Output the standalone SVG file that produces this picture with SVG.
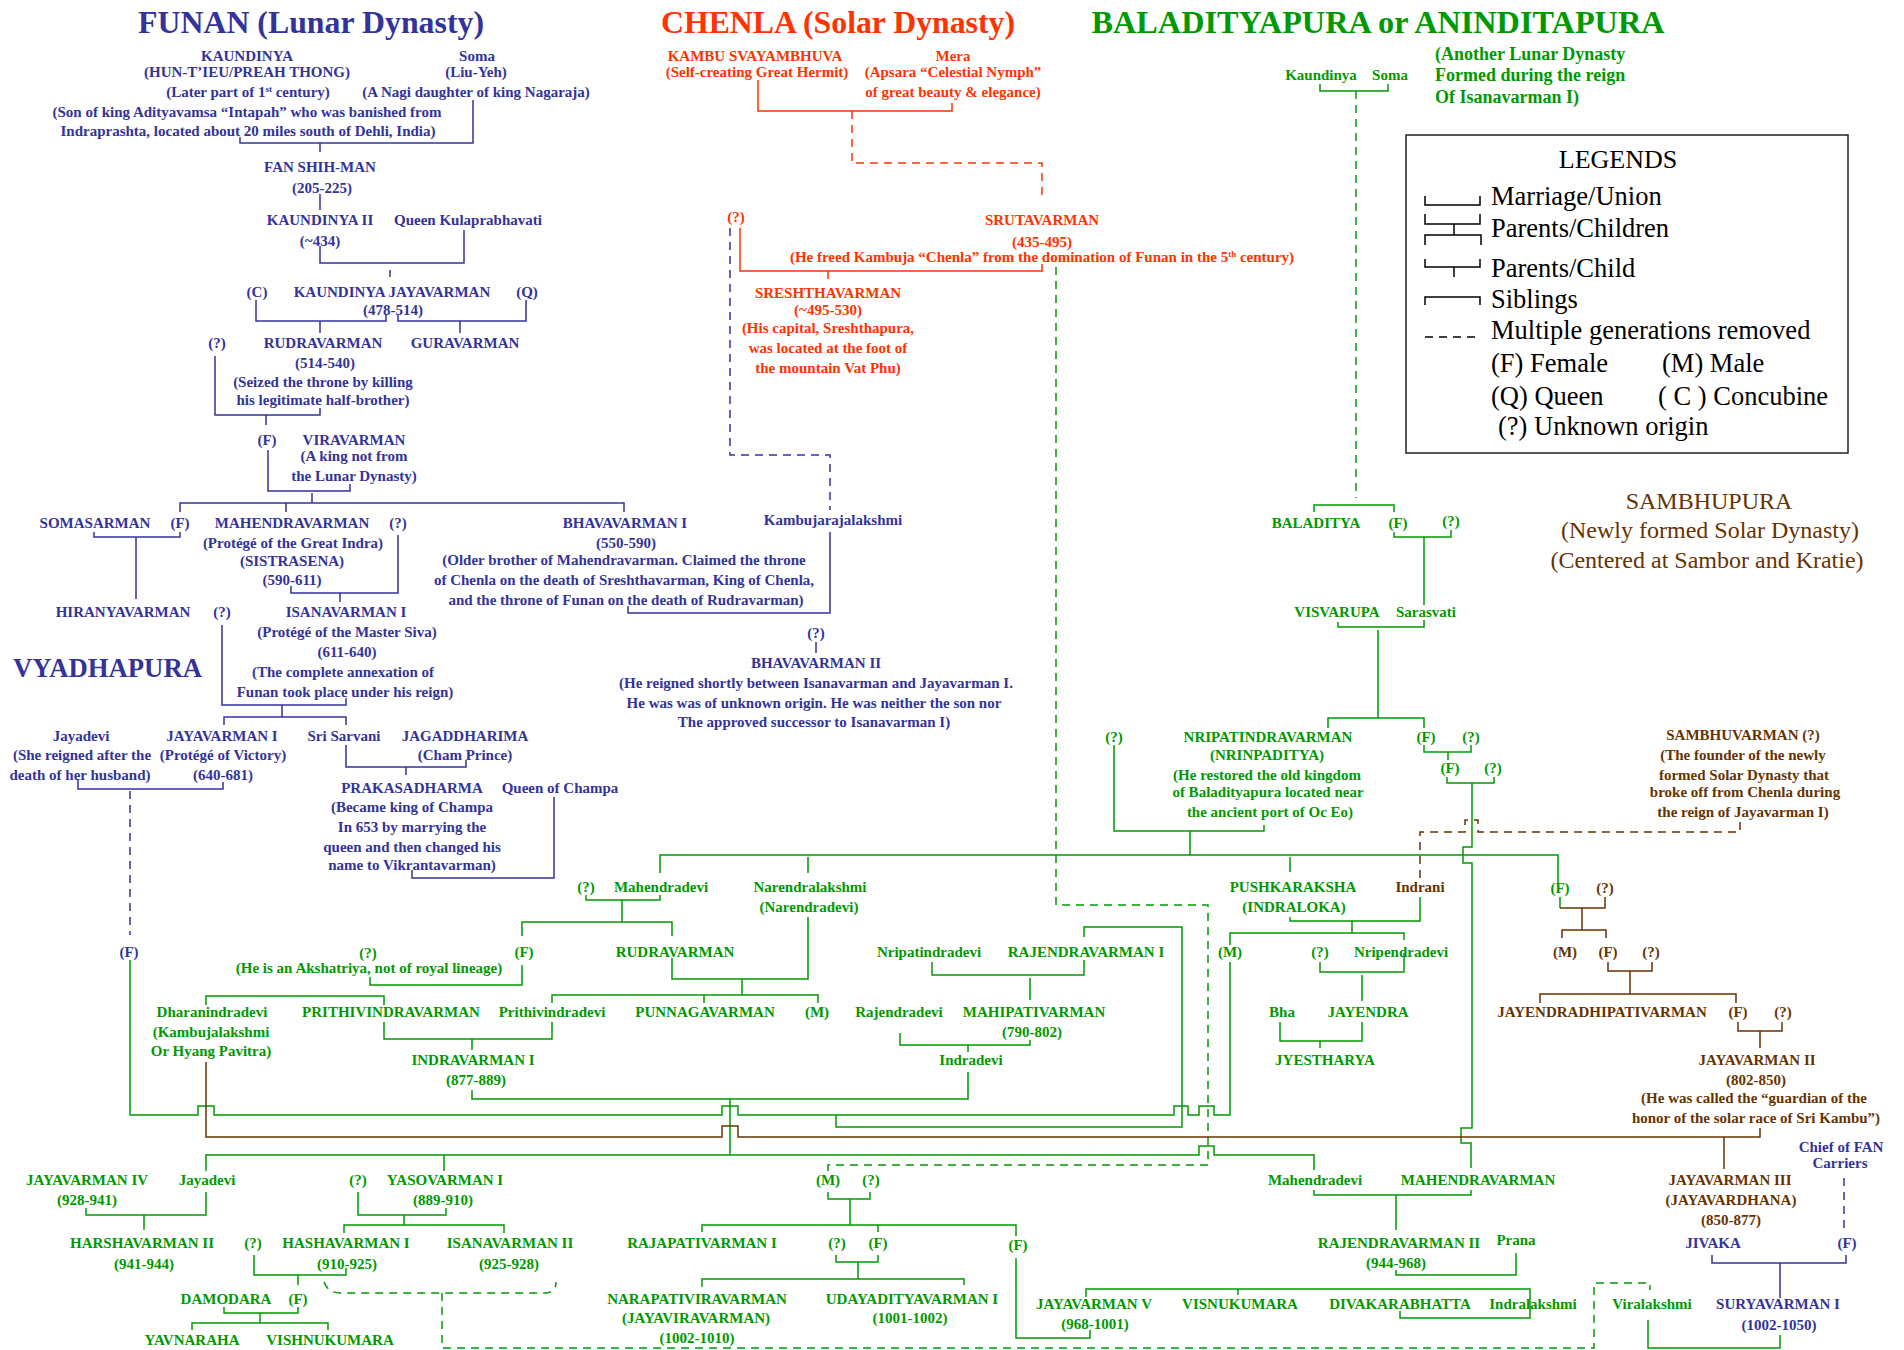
<svg xmlns="http://www.w3.org/2000/svg" width="1904" height="1350" viewBox="0 0 1904 1350">
<style>
text{font-family:'Liberation Serif','Times New Roman',serif;font-size:15px;font-weight:bold;text-anchor:middle}
.b{fill:#333399}.r{fill:#FF3300}.g{fill:#009900}.n{fill:#663300}.k{fill:#000;font-weight:normal}
.ttl{font-size:32px}
.st{text-anchor:start}
.sup{font-size:9px}
.lt{font-size:26.5px}
path{fill:none;stroke-width:1.5}
.lb{stroke:#333399}.lr{stroke:#FF3300}.lg{stroke:#009900}.ln{stroke:#663300}.lk{stroke:#000}
.d{stroke-dasharray:8 6}
</style>
<rect width="1904" height="1350" fill="#fff"/>

<g id="connectors">
<path class="lb" d="M473,100V143H240V137M320,143V152M320,194V210M320,246V263H464V230M390,270V277M256,300V321H386V315M320,321V333M398,315V321H526V300M460,321V333M215,356V415H320V408M266,415V425M268,450V491H350V484M312,493V503M180,512V503H624V512M286,503V512M94,532V537H180V532M136,537V599M398,535V593H291V586M340,593V602M222,625V705H346V698M282,705V717M224,725V717H346V725M78,780V789H223V782M346,745V767H466V760M406,767V775M412,870V878H554V797M628,606V613H830V532M816,642V653M1712,1255V1263H1846V1255M1780,1263V1298"/>
<path class="lb d" d="M130,791V935M730,228V455H830V510M1844,1178V1232"/>
<path class="lr" d="M758,80V111H952V103M740,228V271H1042V264M828,271V279"/>
<path class="lr d" d="M852,111V163H1042V200"/>
<path class="lg" d="M1320,84V91H1388V84M1314,512V505H1394V512M1394,532V537H1451V530M1424,537V605M1424,620V627H1338V622M1378,630V718M1328,728V718H1424V728M1424,745V752H1471V745M1448,752V760M1447,777V783H1494V777M1472,783V847H1463V863H1472V1128H1461V1143H1471V1168M1114,745V831H1264V825M1190,831V855M660,873V855H1558V883M808,857V873M1290,857V872M586,895V900H660V895M622,900V922M522,936V922H672V936M370,977V985H522V965M206,1005V996H384V1005M672,958V979H808V917M742,979V995M552,1003V995H818V1003M704,995V1003M384,1022V1039H552V1022M472,1039V1050M932,962V975H1084V960M1030,978V1000M1084,937V927H1182V1127H836V1115M900,1033V1045H1030V1040M968,1045V1052M968,1072V1099H472V1090M730,1099V1155M1290,917V921H1420V897M1352,921V933M1230,945V933H1404V940M1320,962V972H1404V953M1362,975V1001M1280,1022V1041H1362V1022M1320,1041V1048M130,960V1115H198V1106H214V1115H722V1106H738V1115H1174V1106H1188V1115H1199V1106H1214V1115H1230V962M206,1171V1155H1199V1146H1214V1155H1314V1170M444,1155V1171M86,1208V1215H206V1192M144,1215V1230M358,1192V1215H446V1208M404,1215V1225M344,1233V1225H504V1233M254,1255V1275H346V1268M298,1275V1285M224,1307V1313H298V1307M260,1313V1323M192,1330V1323H328V1330M828,1192V1199H870V1192M850,1199V1225M702,1232V1225H1016V1236M878,1225V1232M836,1255V1262H878V1255M858,1262V1279M702,1287V1279H964V1285M1016,1258V1338H1090V1330M1314,1190V1195H1471V1190M1396,1195V1230M1396,1270V1275H1516V1253M1086,1297V1289H1530V1318H1400V1311M1238,1289V1295M1648,1320V1348H1780V1335M1560,897V908"/>
<path class="lg d" d="M1356,91V498M1056,267V905H1208V1165H828V1172M324,1282Q328,1293 340,1293H544Q556,1293 556,1282M442,1293V1348H1594V1283H1650V1290"/>
<path class="ln" d="M1560,908H1605V897M1582,908V930M1562,938V930H1606V938M1608,962V971H1652V962M1630,971V994M1540,1003V994H1736V1003M1738,1022V1031H1782V1022M1760,1031V1048M206,1062V1137H722V1126H738V1137H1760V1128M1724,1137V1169"/>
<path class="ln d" d="M1740,822V832H1478V820H1465V832H1420V878"/>
</g>

<g id="titles">
<text class="b ttl" x="311" y="33" textLength="346" lengthAdjust="spacingAndGlyphs">FUNAN (Lunar Dynasty)</text>
<text class="r ttl" x="838" y="33" textLength="354" lengthAdjust="spacingAndGlyphs">CHENLA (Solar Dynasty)</text>
<text class="g ttl" x="1378" y="33" textLength="573" lengthAdjust="spacingAndGlyphs">BALADITYAPURA or ANINDITAPURA</text>
<text class="b st" x="13" y="677" style="font-size:28px" textLength="189" lengthAdjust="spacingAndGlyphs">VYADHAPURA</text>
<text class="g st" x="1435" y="60" style="font-size:18px">(Another Lunar Dynasty</text>
<text class="g st" x="1435" y="81" style="font-size:18px">Formed during the reign</text>
<text class="g st" x="1435" y="103" style="font-size:18px">Of Isanavarman  I)</text>
<text class="n" x="1709" y="509" style="font-size:24px;font-weight:normal">SAMBHUPURA</text>
<text class="n" x="1710" y="538" style="font-size:24px;font-weight:normal">(Newly formed Solar Dynasty)</text>
<text class="n" x="1707" y="568" style="font-size:24px;font-weight:normal">(Centered at Sambor and Kratie)</text>
</g>

<g id="legend">
<rect x="1406" y="135" width="442" height="318" fill="#fff" stroke="#222" stroke-width="1.5"/>
<path class="lk" d="M1425,196V205H1480V196M1425,214V224H1480V214M1454,224V235M1425,245V235H1481V245M1425,259V267H1480V259M1454,267V277M1425,305V297H1480V305"/>
<path class="lk d" d="M1425,337H1480"/>
<text class="k" x="1618" y="168" style="font-size:26px">LEGENDS</text>
<text class="k st lt" x="1491" y="205">Marriage/Union</text>
<text class="k st lt" x="1491" y="237">Parents/Children</text>
<text class="k st lt" x="1491" y="277">Parents/Child</text>
<text class="k st lt" x="1491" y="308">Siblings</text>
<text class="k st lt" x="1491" y="339">Multiple generations removed</text>
<text class="k st lt" x="1491" y="372">(F) Female</text>
<text class="k st lt" x="1662" y="372">(M) Male</text>
<text class="k st lt" x="1491" y="405">(Q) Queen</text>
<text class="k st lt" x="1658" y="405">( C ) Concubine</text>
<text class="k st lt" x="1498" y="435">(?) Unknown origin</text>
</g>

<g id="n-kaundinya"><text class="b" x="247" y="61">KAUNDINYA</text><text class="b" x="247" y="77">(HUN-T’IEU/PREAH THONG)</text><text class="b" x="248" y="97">(Later part of 1<tspan class="sup" dy="-5">st</tspan><tspan dy="5"> century)</tspan></text><text class="b" x="247" y="117">(Son of king Adityavamsa “Intapah” who was banished from</text><text class="b" x="248" y="136">Indraprashta, located about 20 miles south of Dehli, India)</text></g>
<g id="n-soma"><text class="b" x="477" y="61">Soma</text><text class="b" x="476" y="77">(Liu-Yeh)</text><text class="b" x="476" y="97">(A Nagi daughter of king Nagaraja)</text></g>
<g id="n-fan-shih-man"><text class="b" x="320" y="172">FAN SHIH-MAN</text><text class="b" x="322" y="193">(205-225)</text></g>
<g id="n-kaundinya-ii"><text class="b" x="320" y="225">KAUNDINYA II</text><text class="b" x="320" y="246">(~434)</text></g>
<g id="n-queen-kulaprabhavati"><text class="b" x="468" y="225">Queen Kulaprabhavati</text></g>
<g id="n-concubine"><text class="b" x="257" y="297">(C)</text></g>
<g id="n-kaundinya-jayavarman"><text class="b" x="392" y="297">KAUNDINYA  JAYAVARMAN</text><text class="b" x="393" y="315">(478-514)</text></g>
<g id="n-queen"><text class="b" x="527" y="297">(Q)</text></g>
<g id="n-unknown-1"><text class="b" x="217" y="348">(?)</text></g>
<g id="n-rudravarman"><text class="b" x="323" y="348">RUDRAVARMAN</text><text class="b" x="325" y="368">(514-540)</text><text class="b" x="323" y="387">(Seized the throne by killing</text><text class="b" x="323" y="405">his legitimate half-brother)</text></g>
<g id="n-guravarman"><text class="b" x="465" y="348">GURAVARMAN</text></g>
<g id="n-female-1"><text class="b" x="267" y="445">(F)</text></g>
<g id="n-viravarman"><text class="b" x="354" y="445">VIRAVARMAN</text><text class="b" x="354" y="461">(A king not from</text><text class="b" x="354" y="481">the Lunar Dynasty)</text></g>
<g id="n-somasarman"><text class="b" x="95" y="528">SOMASARMAN</text></g>
<g id="n-female-2"><text class="b" x="180" y="528">(F)</text></g>
<g id="n-mahendravarman"><text class="b" x="292" y="528">MAHENDRAVARMAN</text><text class="b" x="293" y="548">(Protégé of the Great Indra)</text><text class="b" x="292" y="566">(SISTRASENA)</text><text class="b" x="292" y="585">(590-611)</text></g>
<g id="n-unknown-2"><text class="b" x="398" y="528">(?)</text></g>
<g id="n-bhavavarman-i"><text class="b" x="625" y="528">BHAVAVARMAN  I</text><text class="b" x="626" y="548">(550-590)</text><text class="b" x="624" y="565">(Older brother of Mahendravarman. Claimed the throne</text><text class="b" x="624" y="585">of Chenla on the death of Sreshthavarman, King of Chenla,</text><text class="b" x="626" y="605">and the throne of Funan on the death of Rudravarman)</text></g>
<g id="n-kambujarajalakshmi"><text class="b" x="833" y="525">Kambujarajalakshmi</text></g>
<g id="n-hiranyavarman"><text class="b" x="123" y="617">HIRANYAVARMAN</text></g>
<g id="n-unknown-3"><text class="b" x="222" y="617">(?)</text></g>
<g id="n-isanavarman-i"><text class="b" x="346" y="617">ISANAVARMAN  I</text><text class="b" x="347" y="637">(Protégé of the Master Siva)</text><text class="b" x="347" y="657">(611-640)</text><text class="b" x="343" y="677">(The complete annexation of</text><text class="b" x="345" y="697">Funan took place under his reign)</text></g>
<g id="n-unknown-4"><text class="b" x="816" y="638">(?)</text></g>
<g id="n-bhavavarman-ii"><text class="b" x="816" y="668">BHAVAVARMAN  II</text><text class="b" x="816" y="688">(He reigned shortly between Isanavarman and Jayavarman I.</text><text class="b" x="814" y="708">He was was of unknown origin. He was neither the son nor</text><text class="b" x="814" y="727">The approved successor to Isanavarman I)</text></g>
<g id="n-jayadevi-1"><text class="b" x="81" y="741">Jayadevi</text><text class="b" x="82" y="760">(She reigned after the</text><text class="b" x="80" y="780">death of her husband)</text></g>
<g id="n-jayavarman-i"><text class="b" x="222" y="741">JAYAVARMAN  I</text><text class="b" x="223" y="760">(Protégé of Victory)</text><text class="b" x="223" y="780">(640-681)</text></g>
<g id="n-sri-sarvani"><text class="b" x="344" y="741">Sri Sarvani</text></g>
<g id="n-jagaddharima"><text class="b" x="465" y="741">JAGADDHARIMA</text><text class="b" x="465" y="760">(Cham Prince)</text></g>
<g id="n-prakasadharma"><text class="b" x="412" y="793">PRAKASADHARMA</text><text class="b" x="412" y="812">(Became king of Champa</text><text class="b" x="412" y="832">In 653 by marrying the</text><text class="b" x="412" y="852">queen and then changed his</text><text class="b" x="412" y="870">name to Vikrantavarman)</text></g>
<g id="n-queen-champa"><text class="b" x="560" y="793">Queen of Champa</text></g>
<g id="n-female-3"><text class="b" x="129" y="957">(F)</text></g>
<g id="n-chief-fan"><text class="b" x="1841" y="1152">Chief of FAN</text><text class="b" x="1840" y="1168">Carriers</text></g>
<g id="n-jivaka"><text class="b" x="1713" y="1248">JIVAKA</text></g>
<g id="n-female-4"><text class="b" x="1847" y="1248">(F)</text></g>
<g id="n-suryavarman-i"><text class="b" x="1778" y="1309">SURYAVARMAN I</text><text class="b" x="1779" y="1330">(1002-1050)</text></g>

<g id="n-kambu"><text class="r" x="755" y="61">KAMBU  SVAYAMBHUVA</text><text class="r" x="757" y="77">(Self-creating Great Hermit)</text></g>
<g id="n-mera"><text class="r" x="953" y="61">Mera</text><text class="r" x="953" y="77">(Apsara “Celestial Nymph”</text><text class="r" x="953" y="97">of great beauty &amp; elegance)</text></g>
<g id="n-srutavarman"><text class="r" x="1042" y="225">SRUTAVARMAN</text><text class="r" x="1042" y="247">(435-495)</text><text class="r" x="1042" y="262">(He freed Kambuja “Chenla” from the domination of Funan in the 5<tspan class="sup" dy="-5">th</tspan><tspan dy="5"> century)</tspan></text></g>
<g id="n-unknown-5"><text class="r" x="736" y="222">(?)</text></g>
<g id="n-sreshthavarman"><text class="r" x="828" y="298">SRESHTHAVARMAN</text><text class="r" x="828" y="315">(~495-530)</text><text class="r" x="828" y="333">(His capital, Sreshthapura,</text><text class="r" x="828" y="353">was located at the foot of</text><text class="r" x="828" y="373">the mountain Vat Phu)</text></g>

<g id="n-kaundinya-g"><text class="g" x="1321" y="80">Kaundinya</text></g>
<g id="n-soma-g"><text class="g" x="1390" y="80">Soma</text></g>
<g id="n-baladitya"><text class="g" x="1316" y="528">BALADITYA</text></g>
<g id="n-female-5"><text class="g" x="1398" y="528">(F)</text></g>
<g id="n-unknown-6"><text class="g" x="1451" y="526">(?)</text></g>
<g id="n-visvarupa"><text class="g" x="1337" y="617">VISVARUPA</text></g>
<g id="n-sarasvati"><text class="g" x="1426" y="617">Sarasvati</text></g>
<g id="n-unknown-7"><text class="g" x="1114" y="742">(?)</text></g>
<g id="n-nripatindravarman"><text class="g" x="1268" y="742">NRIPATINDRAVARMAN</text><text class="g" x="1267" y="760">(NRINPADITYA)</text><text class="g" x="1267" y="780">(He restored the old kingdom</text><text class="g" x="1268" y="797">of Baladityapura located near</text><text class="g" x="1270" y="817">the ancient port of Oc Eo)</text></g>
<g id="n-female-6"><text class="g" x="1426" y="742">(F)</text></g>
<g id="n-unknown-8"><text class="g" x="1471" y="742">(?)</text></g>
<g id="n-female-7"><text class="g" x="1450" y="773">(F)</text></g>
<g id="n-unknown-9"><text class="g" x="1493" y="773">(?)</text></g>
<g id="n-unknown-10"><text class="g" x="586" y="892">(?)</text></g>
<g id="n-mahendradevi-1"><text class="g" x="661" y="892">Mahendradevi</text></g>
<g id="n-narendralakshmi"><text class="g" x="810" y="892">Narendralakshmi</text><text class="g" x="809" y="912">(Narendradevi)</text></g>
<g id="n-pushkaraksha"><text class="g" x="1293" y="892">PUSHKARAKSHA</text><text class="g" x="1294" y="912">(INDRALOKA)</text></g>
<g id="n-indrani"><text class="n" x="1420" y="892">Indrani</text></g>
<g id="n-female-8"><text class="g" x="1560" y="893">(F)</text></g>
<g id="n-unknown-11"><text class="n" x="1605" y="893">(?)</text></g>
<g id="n-sambhuvarman"><text class="n" x="1743" y="740">SAMBHUVARMAN (?)</text><text class="n" x="1743" y="760">(The founder of the newly</text><text class="n" x="1744" y="780">formed Solar Dynasty that</text><text class="n" x="1745" y="797">broke off from Chenla during</text><text class="n" x="1743" y="817">the reign of Jayavarman I)</text></g>
<g id="n-unknown-12"><text class="g" x="368" y="958">(?)</text><text class="g" x="369" y="973">(He is an Akshatriya, not of royal lineage)</text></g>
<g id="n-female-9"><text class="g" x="524" y="957">(F)</text></g>
<g id="n-rudravarman-g"><text class="g" x="675" y="957">RUDRAVARMAN</text></g>
<g id="n-nripatindradevi"><text class="g" x="929" y="957">Nripatindradevi</text></g>
<g id="n-rajendravarman-i"><text class="g" x="1086" y="957">RAJENDRAVARMAN  I</text></g>
<g id="n-male-1"><text class="g" x="1230" y="957">(M)</text></g>
<g id="n-unknown-13"><text class="g" x="1320" y="957">(?)</text></g>
<g id="n-nripendradevi"><text class="g" x="1401" y="957">Nripendradevi</text></g>
<g id="n-male-2"><text class="n" x="1565" y="957">(M)</text></g>
<g id="n-female-10"><text class="n" x="1608" y="957">(F)</text></g>
<g id="n-unknown-14"><text class="n" x="1651" y="957">(?)</text></g>
<g id="n-dharanindradevi"><text class="g" x="212" y="1017">Dharanindradevi</text><text class="g" x="211" y="1037">(Kambujalakshmi</text><text class="g" x="211" y="1056">Or Hyang Pavitra)</text></g>
<g id="n-prithivindravarman"><text class="g" x="391" y="1017">PRITHIVINDRAVARMAN</text></g>
<g id="n-prithivindradevi"><text class="g" x="552" y="1017">Prithivindradevi</text></g>
<g id="n-punnagavarman"><text class="g" x="705" y="1017">PUNNAGAVARMAN</text></g>
<g id="n-male-3"><text class="g" x="817" y="1017">(M)</text></g>
<g id="n-rajendradevi"><text class="g" x="899" y="1017">Rajendradevi</text></g>
<g id="n-mahipativarman"><text class="g" x="1034" y="1017">MAHIPATIVARMAN</text><text class="g" x="1032" y="1037">(790-802)</text></g>
<g id="n-bha"><text class="g" x="1282" y="1017">Bha</text></g>
<g id="n-jayendra"><text class="g" x="1368" y="1017">JAYENDRA</text></g>
<g id="n-jayendradhipativarman"><text class="n" x="1602" y="1017">JAYENDRADHIPATIVARMAN</text></g>
<g id="n-female-11"><text class="n" x="1738" y="1017">(F)</text></g>
<g id="n-unknown-15"><text class="n" x="1783" y="1017">(?)</text></g>
<g id="n-indravarman-i"><text class="g" x="473" y="1065">INDRAVARMAN  I</text><text class="g" x="476" y="1085">(877-889)</text></g>
<g id="n-indradevi"><text class="g" x="971" y="1065">Indradevi</text></g>
<g id="n-jyestharya"><text class="g" x="1325" y="1065">JYESTHARYA</text></g>
<g id="n-jayavarman-ii"><text class="n" x="1757" y="1065">JAYAVARMAN  II</text><text class="n" x="1756" y="1085">(802-850)</text><text class="n" x="1754" y="1103">(He was called the “guardian of the</text><text class="n" x="1756" y="1123">honor of the solar race of Sri Kambu”)</text></g>
<g id="n-jayavarman-iv"><text class="g" x="87" y="1185">JAYAVARMAN  IV</text><text class="g" x="87" y="1205">(928-941)</text></g>
<g id="n-jayadevi-2"><text class="g" x="207" y="1185">Jayadevi</text></g>
<g id="n-unknown-16"><text class="g" x="358" y="1185">(?)</text></g>
<g id="n-yasovarman-i"><text class="g" x="445" y="1185">YASOVARMAN  I</text><text class="g" x="443" y="1205">(889-910)</text></g>
<g id="n-male-4"><text class="g" x="828" y="1185">(M)</text></g>
<g id="n-unknown-17"><text class="g" x="871" y="1185">(?)</text></g>
<g id="n-mahendradevi-2"><text class="g" x="1315" y="1185">Mahendradevi</text></g>
<g id="n-mahendravarman-g"><text class="g" x="1478" y="1185">MAHENDRAVARMAN</text></g>
<g id="n-jayavarman-iii"><text class="n" x="1730" y="1185">JAYAVARMAN  III</text><text class="n" x="1731" y="1205">(JAYAVARDHANA)</text><text class="n" x="1731" y="1225">(850-877)</text></g>
<g id="n-harshavarman-ii"><text class="g" x="142" y="1248">HARSHAVARMAN  II</text><text class="g" x="144" y="1269">(941-944)</text></g>
<g id="n-unknown-18"><text class="g" x="253" y="1248">(?)</text></g>
<g id="n-hashavarman-i"><text class="g" x="346" y="1248">HASHAVARMAN  I</text><text class="g" x="347" y="1269">(910-925)</text></g>
<g id="n-isanavarman-ii"><text class="g" x="510" y="1248">ISANAVARMAN  II</text><text class="g" x="509" y="1269">(925-928)</text></g>
<g id="n-rajapativarman-i"><text class="g" x="702" y="1248">RAJAPATIVARMAN  I</text></g>
<g id="n-unknown-19"><text class="g" x="837" y="1248">(?)</text></g>
<g id="n-female-12"><text class="g" x="878" y="1248">(F)</text></g>
<g id="n-female-13"><text class="g" x="1018" y="1250">(F)</text></g>
<g id="n-rajendravarman-ii"><text class="g" x="1399" y="1248">RAJENDRAVARMAN  II</text><text class="g" x="1396" y="1268">(944-968)</text></g>
<g id="n-prana"><text class="g" x="1516" y="1245">Prana</text></g>
<g id="n-damodara"><text class="g" x="226" y="1304">DAMODARA</text></g>
<g id="n-female-14"><text class="g" x="298" y="1304">(F)</text></g>
<g id="n-narapativiravarman"><text class="g" x="697" y="1304">NARAPATIVIRAVARMAN</text><text class="g" x="696" y="1323">(JAYAVIRAVARMAN)</text><text class="g" x="697" y="1343">(1002-1010)</text></g>
<g id="n-udayadityavarman-i"><text class="g" x="912" y="1304">UDAYADITYAVARMAN  I</text><text class="g" x="910" y="1323">(1001-1002)</text></g>
<g id="n-jayavarman-v"><text class="g" x="1094" y="1309">JAYAVARMAN  V</text><text class="g" x="1095" y="1329">(968-1001)</text></g>
<g id="n-visnukumara"><text class="g" x="1240" y="1309">VISNUKUMARA</text></g>
<g id="n-divakarabhatta"><text class="g" x="1400" y="1309">DIVAKARABHATTA</text></g>
<g id="n-indralakshmi"><text class="g" x="1533" y="1309">Indralakshmi</text></g>
<g id="n-viralakshmi"><text class="g" x="1652" y="1309">Viralakshmi</text></g>
<g id="n-yavnaraha"><text class="g" x="192" y="1345">YAVNARAHA</text></g>
<g id="n-vishnukumara"><text class="g" x="330" y="1345">VISHNUKUMARA</text></g>
</svg>
